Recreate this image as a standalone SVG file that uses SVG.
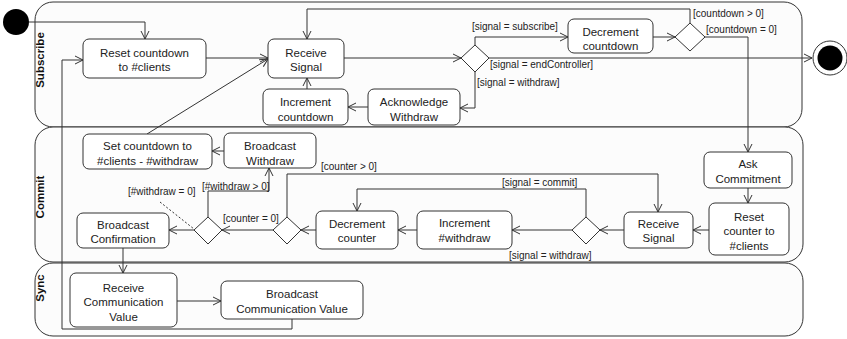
<svg xmlns="http://www.w3.org/2000/svg" width="847" height="339" viewBox="0 0 847 339">
<style>
.lane{fill:#fcfcfc;stroke:#333;stroke-width:1}
.node{fill:#fff;stroke:#333;stroke-width:1}
.dec{fill:#fff;stroke:#333;stroke-width:1}
.t{font-family:"Liberation Sans",Arial,sans-serif;font-size:11.5px;fill:#222;text-anchor:middle}
.lbl{font-family:"Liberation Sans",Arial,sans-serif;font-size:10px;fill:#222}
.lt{font-family:"Liberation Sans",Arial,sans-serif;font-size:11.5px;font-weight:bold;fill:#111;text-anchor:middle}
.c{fill:none;stroke:#333;stroke-width:1;marker-end:url(#arr)}
</style>
<defs>
<marker id="arr" markerUnits="userSpaceOnUse" markerWidth="10" markerHeight="10" refX="9" refY="5" orient="auto" viewBox="0 0 10 10">
<path d="M1,1 L9,5 L1,9" fill="none" stroke="#333" stroke-width="1"/>
</marker>
</defs>
<rect width="847" height="339" fill="#fff"/>
<g id="lanes">
<g id="lane-subscribe"><rect class="lane" x="35" y="2" width="767" height="125" rx="18"/><text class="lt" x="44" y="60" transform="rotate(-90 44 60)">Subscribe</text></g>
<g id="lane-commit"><rect class="lane" x="35" y="127" width="768" height="135" rx="18"/><text class="lt" x="44" y="197" transform="rotate(-90 44 197)">Commit</text></g>
<g id="lane-sync"><rect class="lane" x="35" y="263" width="768" height="73" rx="18"/><text class="lt" x="44" y="288" transform="rotate(-90 44 288)">Sync</text></g>
</g>
<g id="connectors">
<path class="c" d="M29,22 H145 V39"/>
<path class="c" d="M206,58 H268"/>
<path class="c" d="M344,58 H461"/>
<path class="c" d="M475,45 V37 H568"/>
<path class="c" d="M653,37 H675"/>
<path class="c" d="M690,23 V9 H307 V39"/>
<path class="c" d="M705,37 H748 V152"/>
<path class="c" d="M489,58 H812"/>
<path class="c" d="M475,72 V108 H460"/>
<path class="c" d="M368,107 H348"/>
<path class="c" d="M307,89 V78"/>
<path class="c" d="M147,134 L268,59"/>
<path class="c" d="M748,188 V203"/>
<path class="c" d="M709,230 H693"/>
<path class="c" d="M624,230 H600"/>
<path class="c" d="M572,230 H512"/>
<path class="c" d="M586,217 V189 H357 V211"/>
<path class="c" d="M417,230 H398"/>
<path class="c" d="M316,230 H301"/>
<path class="c" d="M287,217 V174 H658 V212"/>
<path class="c" d="M273,230 H222"/>
<path class="c" d="M208,217 V191 H269 V168"/>
<path class="c" d="M194,230 H169"/>
<path class="c" d="M224,151 H212"/>
<path class="c" d="M123,248 V273"/>
<path class="c" d="M177,301 H221"/>
<path class="c" d="M292,319 V329 H62 V60 H83"/>
<path d="M160,202 L194,229" fill="none" stroke="#333" stroke-width="1" stroke-dasharray="2,2"/>
<text class="lbl" x="472" y="30">[signal = subscribe]</text>
<text class="lbl" x="693" y="17">[countdown &gt; 0]</text>
<text class="lbl" x="706" y="33">[countdown = 0]</text>
<text class="lbl" x="490" y="68">[signal = endController]</text>
<text class="lbl" x="477" y="86">[signal = withdraw]</text>
<text class="lbl" x="321" y="170">[counter &gt; 0]</text>
<text class="lbl" x="202" y="190">[#withdraw &gt; 0]</text>
<text class="lbl" x="128" y="195">[#withdraw = 0]</text>
<text class="lbl" x="223" y="222">[counter = 0]</text>
<text class="lbl" x="502" y="186">[signal = commit]</text>
<text class="lbl" x="509" y="259">[signal = withdraw]</text>
</g>
<g id="initial"><circle cx="16" cy="22" r="13" fill="#000"/></g>
<g id="final"><circle cx="830" cy="58" r="17" fill="#fff" stroke="#333" stroke-width="1"/><circle cx="830" cy="58" r="12.5" fill="#000"/></g>
<g id="reset-countdown"><rect class="node" x="83" y="39" width="123" height="39" rx="6"/><text class="t" x="144.5" y="57">Reset countdown</text><text class="t" x="144.5" y="71">to #clients</text></g>
<g id="receive-signal-1"><rect class="node" x="268" y="39" width="76" height="39" rx="6"/><text class="t" x="306" y="57">Receive</text><text class="t" x="306" y="71">Signal</text></g>
<g id="increment-countdown"><rect class="node" x="263" y="89" width="85" height="36" rx="6"/><text class="t" x="305.5" y="106">Increment</text><text class="t" x="305.5" y="121">countdown</text></g>
<g id="acknowledge-withdraw"><rect class="node" x="368" y="89" width="92" height="36" rx="6"/><text class="t" x="414" y="106">Acknowledge</text><text class="t" x="414" y="121">Withdraw</text></g>
<g id="decision-1"><polygon class="dec" points="475,45 489,58 475,72 461,58"/></g>
<g id="decrement-countdown"><rect class="node" x="568" y="19" width="85" height="34" rx="6"/><text class="t" x="610.5" y="36">Decrement</text><text class="t" x="610.5" y="50">countdown</text></g>
<g id="decision-2"><polygon class="dec" points="690,23 705,37 690,51 675,37"/></g>
<g id="set-countdown"><rect class="node" x="83" y="134" width="129" height="35" rx="6"/><text class="t" x="147.5" y="150">Set countdown to</text><text class="t" x="147.5" y="165">#clients - #withdraw</text></g>
<g id="broadcast-withdraw"><rect class="node" x="224" y="133" width="92" height="35" rx="6"/><text class="t" x="270" y="150">Broadcast</text><text class="t" x="270" y="165">Withdraw</text></g>
<g id="broadcast-confirmation"><rect class="node" x="77" y="213" width="92" height="35" rx="6"/><text class="t" x="123" y="229">Broadcast</text><text class="t" x="123" y="243">Confirmation</text></g>
<g id="decision-3"><polygon class="dec" points="208,217 222,230 208,244 194,230"/></g>
<g id="decision-4"><polygon class="dec" points="287,217 301,230 287,244 273,230"/></g>
<g id="decrement-counter"><rect class="node" x="316" y="211" width="82" height="38" rx="6"/><text class="t" x="357" y="228">Decrement</text><text class="t" x="357" y="242">counter</text></g>
<g id="increment-withdraw"><rect class="node" x="417" y="211" width="95" height="38" rx="6"/><text class="t" x="464.5" y="227">Increment</text><text class="t" x="464.5" y="242">#withdraw</text></g>
<g id="decision-5"><polygon class="dec" points="586,217 600,230 586,244 572,230"/></g>
<g id="receive-signal-2"><rect class="node" x="624" y="212" width="69" height="36" rx="6"/><text class="t" x="658.5" y="228">Receive</text><text class="t" x="658.5" y="242">Signal</text></g>
<g id="reset-counter"><rect class="node" x="709" y="203" width="80" height="52" rx="6"/><text class="t" x="749" y="221">Reset</text><text class="t" x="749" y="235">counter to</text><text class="t" x="749" y="250">#clients</text></g>
<g id="ask-commitment"><rect class="node" x="704" y="152" width="88" height="36" rx="6"/><text class="t" x="748" y="168">Ask</text><text class="t" x="748" y="183">Commitment</text></g>
<g id="receive-communication-value"><rect class="node" x="70" y="273" width="107" height="54" rx="6"/><text class="t" x="123.5" y="292">Receive</text><text class="t" x="123.5" y="306">Communication</text><text class="t" x="123.5" y="321">Value</text></g>
<g id="broadcast-communication-value"><rect class="node" x="221" y="281" width="142" height="38" rx="6"/><text class="t" x="292" y="298">Broadcast</text><text class="t" x="292" y="313">Communication Value</text></g>
</svg>
